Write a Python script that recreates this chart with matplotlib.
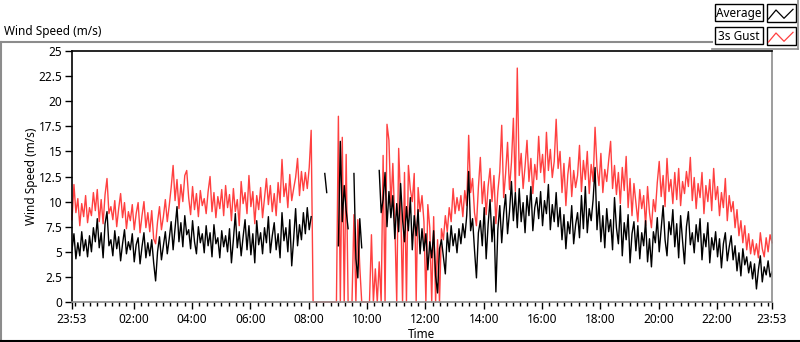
import numpy as np
import matplotlib.pyplot as plt
from matplotlib.lines import Line2D
from matplotlib.patches import Rectangle

nan = np.nan

# one sample every 4 minutes, starting 23:53
SAMPLE_MIN = 4

avg = [
    5.2, 6.8, 4.3, 5.9, 4.6, 7.0, 5.1, 6.2, 4.5, 6.6,
    5.0, 7.4, 6.0, 8.3, 5.4, 6.9, 4.4, 7.8, 9.0, 5.6,
    6.2, 4.6, 7.1, 5.3, 6.5, 4.1, 5.8, 7.2, 4.8, 6.0,
    5.2, 6.8, 4.0, 5.7, 6.4, 3.8, 5.5, 6.9, 4.4, 5.9,
    4.6, 6.2, 3.9, 2.1, 5.0, 6.5, 4.2, 5.6, 7.0, 4.8,
    6.3, 8.0, 5.2, 7.4, 9.5, 6.0, 7.9, 5.5, 8.6, 6.7,
    7.2, 5.3, 8.1, 6.0, 4.8, 7.5, 5.9, 6.8, 4.9, 7.6,
    5.6, 6.9, 4.5, 7.7, 5.8, 6.4, 4.4, 7.1, 5.5, 6.6,
    5.0, 7.3, 3.9, 6.2, 8.8, 5.4, 7.0, 4.6, 6.5, 8.2,
    5.2, 7.6, 4.7, 6.8, 3.9, 8.1, 5.7, 6.9, 4.8, 7.4,
    5.9, 8.5, 4.9, 6.6, 7.9, 5.2, 6.8, 4.4, 8.9, 6.1,
    7.4, 5.0, 8.2, 3.6, 6.3, 9.3, 5.6, 7.7, 6.2, 8.9,
    6.8, 9.4, 7.2, 8.5, nan, nan, nan, nan, nan, nan,
    12.8, 10.9, nan, nan, nan, nan, nan, 5.6, 16.0, 8.0,
    11.6, 9.1, 7.3, nan, nan, 12.8, 4.3, 2.4, 8.3, 5.4,
    nan, nan, nan, nan, nan, nan, nan, nan, 13.1, 8.9,
    10.2, 12.9, 7.5, 11.0, 8.4, 10.6, 6.3, 9.8, 7.0, 11.8,
    8.2, 6.0, 9.5, 7.1, 10.4, 5.2, 8.6, 6.6, 9.2, 4.8,
    7.3, 5.1, 6.8, 3.2, 6.0, 4.4, 7.1, 2.6, 0.9, 5.3,
    6.2, 4.5, 2.8, 6.9, 5.0, 7.6, 5.6, 6.8, 4.9, 7.3,
    5.8, 7.8, 6.4, 8.6, 13.0, 7.1, 8.3, 5.2, 2.4, 6.9,
    8.1, 5.6, 9.4, 4.3, 7.7, 10.2, 6.0, 8.5, 1.0, 7.2,
    9.6, 5.9, 8.8, 10.7, 6.8, 9.0, 12.0, 8.1, 10.9, 7.4,
    11.3, 8.0, 9.9, 6.9, 10.6, 8.6, 11.5, 7.1, 9.4, 10.4,
    8.3, 11.0, 7.6, 10.1, 8.8, 11.7, 7.2, 9.7, 8.0, 10.9,
    7.5, 9.4, 6.2, 8.7, 5.3, 8.0, 6.8, 9.6, 5.8, 7.7,
    8.9, 6.4, 10.6, 7.3, 11.5, 6.9, 9.3, 8.1, 10.2, 13.4,
    7.2, 10.0, 6.0, 8.6, 5.4, 9.3, 7.0, 8.2, 5.2, 10.4,
    7.4, 5.8, 9.6, 4.6, 7.9, 6.2, 8.7, 3.9, 6.8, 8.0,
    5.1, 7.6, 4.3, 6.9, 5.6, 8.1, 4.0, 6.3, 3.5, 7.0,
    5.9, 8.4, 5.0, 7.3, 9.6, 6.2, 4.6, 8.0, 6.7, 9.2,
    5.5, 7.8, 4.4, 8.6, 6.1, 3.8, 7.5, 9.0, 5.7, 6.9,
    4.9, 7.7, 6.0, 8.3, 4.2, 6.8, 5.5, 7.9, 3.9, 6.4,
    5.2, 7.0, 4.5, 6.3, 3.4, 5.8, 6.9, 4.1, 5.5, 6.6,
    4.2, 5.6, 3.1, 4.9, 2.6, 5.3, 3.7, 4.5, 2.9, 4.0,
    2.3, 3.8, 1.3, 3.2, 4.6, 2.0, 3.5, 2.7, 4.1, 2.5, 3.0,
]

gust = [
    8.2, 11.7, 8.9, 10.3, 7.6, 9.8, 8.5, 10.6, 7.9, 9.4,
    8.6, 10.9, 9.1, 11.2, 8.0, 10.2, 7.8, 10.7, 12.3, 8.8,
    9.5, 8.2, 10.1, 7.5, 9.3, 10.8, 8.4, 9.9, 7.3, 9.0,
    8.1, 9.7, 7.2, 8.8, 9.9, 6.9, 8.6, 10.0, 7.4, 8.9,
    7.0, 9.1, 6.3, 5.8, 8.0, 9.5, 7.2, 8.5, 10.2, 8.0,
    9.6, 11.4, 13.6, 10.1, 12.2, 9.3, 11.7, 10.0, 12.6, 13.1,
    10.4, 8.7, 11.5, 9.2, 10.8, 8.5, 11.1, 9.6, 10.3, 8.8,
    11.0, 12.5, 9.0, 10.9, 8.4, 10.5, 9.3, 11.2, 8.6, 11.6,
    9.4, 10.7, 8.1, 11.3, 9.0, 10.2, 7.6, 12.0, 9.8, 10.9,
    8.8, 12.6, 9.5, 11.0, 7.8, 10.6, 9.2, 11.4, 8.4, 10.3,
    12.3, 9.7, 11.6, 9.0, 10.8, 8.6, 11.9, 9.9, 14.2, 10.5,
    11.8, 9.4, 12.7, 10.1, 11.3, 12.4, 14.3, 10.6, 13.0, 11.1,
    12.9, 11.3, 13.4, 17.1, 0, 0, 0, 0, 0, 0,
    0, 0, 0, 0, 0, 0, 0, 18.5, 0, 16.4,
    0, 14.7, 0, 0, 0, 8.7, 0, 8.2, 3.5, 0,
    0, 0, 0, 0, 6.7, 0, 3.3, 0, 4.0, 0,
    14.6, 0, 17.7, 16.1, 9.5, 13.8, 8.0, 0, 15.3, 10.1,
    0, 12.9, 0, 13.6, 11.2, 10.0, 12.8, 0, 11.4, 9.0,
    10.6, 8.0, 0, 9.7, 7.4, 0, 8.5, 0, 6.2, 0,
    7.3, 6.2, 8.6, 7.0, 9.4, 8.0, 11.3, 8.8, 10.4, 9.1,
    10.6, 8.5, 11.1, 9.6, 16.6, 10.9, 12.3, 8.9, 7.6, 11.4,
    14.4, 9.8, 12.0, 8.7, 11.5, 13.3, 10.0, 12.6, 7.8, 11.0,
    13.0, 17.6, 10.4, 12.8, 15.9, 11.2, 13.9, 18.3, 11.0, 23.3,
    12.6, 14.8, 11.3, 13.5, 16.1, 12.0, 14.3, 10.8, 13.7, 12.2,
    16.5, 12.9, 14.7, 11.9, 16.9, 13.1, 15.2, 12.4, 14.0, 18.2,
    13.3, 15.0, 10.9, 13.8, 9.6, 12.7, 14.4, 10.5, 13.1, 11.4,
    12.6, 15.6, 11.0, 14.1, 12.2, 15.0, 10.8, 13.7, 12.0, 17.4,
    13.4, 11.6, 14.8, 10.9, 13.2, 12.0, 14.1, 16.0, 11.3, 13.6,
    10.7, 12.9, 9.8, 13.4, 11.1, 14.5, 9.4, 12.3, 8.6, 11.8,
    9.9, 8.0, 11.2, 9.3, 10.6, 7.6, 11.5, 8.9, 7.4, 10.2,
    9.0, 11.9, 14.0, 10.5, 12.6, 9.5, 14.3, 11.0, 12.2, 9.8,
    12.9, 10.2, 13.3, 9.6, 12.0, 10.8, 13.0, 11.5, 14.4, 10.1,
    12.4, 9.3, 11.8, 10.4, 12.9, 8.8, 11.6, 10.0, 12.2, 9.1,
    13.3, 10.2, 11.5, 8.6, 10.9, 9.4, 12.3, 8.1, 10.6, 9.0,
    10.0, 7.4, 9.2, 6.6, 8.1, 5.9, 7.6, 5.2, 6.8, 4.8,
    6.2, 4.7, 5.8, 4.4, 6.9, 5.3, 4.5, 6.4, 5.0, 6.7, 5.9,
]

# x axis: minutes since 23:53
start_hm = (23, 53)
label_hours = [2, 4, 6, 8, 10, 12, 14, 16, 18, 20, 22]
y_ticks = [0, 2.5, 5, 7.5, 10, 12.5, 15, 17.5, 20, 22.5, 25]

RED = '#ff4040'
GRAY = '#8c8c8c'
W, H = 800, 342
FS = 8.5

plt.rcParams['font.family'] = ['Noto Sans', 'DejaVu Sans']
plt.rcParams['font.size'] = FS


def fpos(x, y):
    # pixel position -> figure fraction
    return x / W, 1 - y / H


def minutes_from_start(h, m):
    return ((h * 60 + m) - (start_hm[0] * 60 + start_hm[1])) % 1440


t = np.arange(len(avg)) * SAMPLE_MIN
span = 1440

fig = plt.figure(figsize=(W / 100, H / 100), dpi=100)
ax = fig.add_axes([72 / W, 40 / H, 700 / W, 251 / H])

ax.plot(t, gust, color=RED, lw=1.0, clip_on=False)
ax.plot(t, avg, color='black', lw=1.0)

ax.set_xlim(0, span)
ax.set_ylim(0, 25)

ax.set_yticks(y_ticks)
ax.set_yticklabels([f'{v:g}' for v in y_ticks])

start_label = f'{start_hm[0]:02d}:{start_hm[1]:02d}'
major = [0] + [minutes_from_start(h, 0) for h in label_hours] + [span]
major_labels = [start_label] + [f'{h:02d}:00' for h in label_hours] + [start_label]
ax.set_xticks(major)
ax.set_xticklabels(major_labels)
first_quarter = minutes_from_start(0, 0)
ax.set_xticks(np.arange(first_quarter, span, 15), minor=True)

ax.tick_params(axis='y', length=5, width=1, pad=2, colors='black', labelsize=FS)
ax.tick_params(axis='x', which='major', length=5, width=1, pad=3, labelsize=FS)
ax.tick_params(axis='x', which='minor', length=3, width=1)

for s in ['top', 'left']:
    ax.spines[s].set_color('black')
for s in ['bottom', 'right']:
    ax.spines[s].set_color(GRAY)
for s in ax.spines.values():
    s.set_linewidth(1.2)

fig.text(*fpos(32, 176), 'Wind Speed (m/s)', rotation=90, ha='center', va='center', fontsize=FS)
fig.text(*fpos(421, 334), 'Time', ha='center', va='center', fontsize=FS)
fig.text(*fpos(4, 32), 'Wind Speed (m/s)', ha='left', va='center', fontsize=FS)

# panel frame
fig.add_artist(Line2D([0, 712 / W], [1 - 42 / H] * 2, color=GRAY, lw=1.5))
fig.add_artist(Line2D([1 / W, 1 / W], [1 - 42 / H, 1 - 340 / H], color=GRAY, lw=1.5))
fig.add_artist(Line2D([0, 1], [1 - 340.5 / H] * 2, color='black', lw=1.5))

# legend panel
fig.add_artist(Line2D([712 / W, 798 / W], [1 - 48.5 / H] * 2, color=GRAY, lw=1.2))
fig.add_artist(Line2D([798 / W, 798 / W], [1, 1 - 48.5 / H], color=GRAY, lw=1.2))
for row, (name, col) in enumerate([('Average', 'black'), ('3s Gust', RED)]):
    dy = row * 23
    x0, y1 = fpos(715, 21 + dy)
    fig.add_artist(Rectangle((x0, y1), 48 / W, 17 / H, transform=fig.transFigure,
                             fill=False, ec='black', lw=1.0))
    x0, y1 = fpos(767, 22 + dy)
    fig.add_artist(Rectangle((x0, y1), 29 / W, 18 / H, transform=fig.transFigure,
                             fill=False, ec='black', lw=1.0))
    zx = [768.5, 776, 784, 793]
    zy = [19, 10, 18.3, 9.3]
    fig.add_artist(Line2D([v / W for v in zx], [1 - (v + dy) / H for v in zy],
                          color=col, lw=0.9))
    fig.text(*fpos(739, 13 + dy), name, ha='center', va='center', fontsize=FS)

fig.savefig('out.png', dpi=100)
